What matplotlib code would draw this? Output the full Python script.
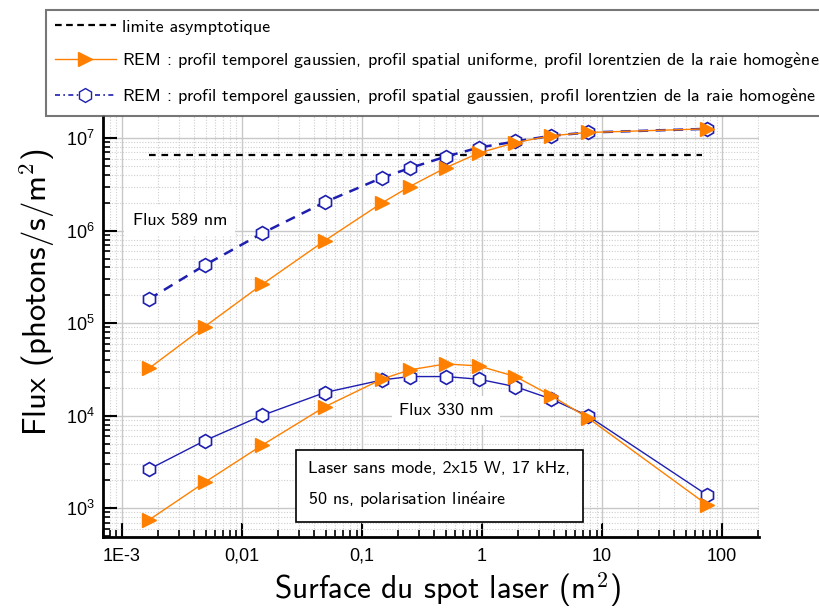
import matplotlib
matplotlib.use("Agg")
import matplotlib.pyplot as plt
from matplotlib.lines import Line2D
from matplotlib.ticker import FixedLocator, FixedFormatter, LogLocator, NullFormatter

plt.rcParams["font.family"] = ["Liberation Sans", "DejaVu Sans"]
plt.rcParams["mathtext.fontset"] = "cm"
CM = ["cmss10", "DejaVu Sans"]

# surface du spot laser (m2)
surface = [0.00168, 0.0049, 0.0148, 0.049, 0.148, 0.25, 0.5, 0.94, 1.9, 3.76, 7.6, 75]

# flux 589 nm
flux589_unif = [3.25e4, 9.2e4, 2.64e5, 7.8e5, 2.01e6, 3.0e6, 4.8e6, 6.9e6, 8.96e6, 1.06e7, 1.15e7, 1.26e7]
flux589_gauss = [1.82e5, 4.24e5, 9.4e5, 2.03e6, 3.75e6, 4.74e6, 6.32e6, 7.9e6, 9.2e6, 1.06e7, 1.15e7, 1.26e7]

# flux 330 nm
flux330_unif = [748, 1.91e3, 4.83e3, 1.25e4, 2.5e4, 3.13e4, 3.63e4, 3.45e4, 2.65e4, 1.65e4, 9.5e3, 1.09e3]
flux330_gauss = [2.64e3, 5.38e3, 1.01e4, 1.78e4, 2.44e4, 2.65e4, 2.65e4, 2.48e4, 2.06e4, 1.52e4, 9.98e3, 1.39e3]

# limite asymptotique
asym_x = [0.00168, 68]
asym_y = [6.49e6, 6.49e6]

xticks = [1e-3, 1e-2, 1e-1, 1, 10, 100]
xticklabels = ["1E-3", "0,01", "0,1", "1", "10", "100"]
yticks = [1e3, 1e4, 1e5, 1e6, 1e7]
yticklabels = [r"$\mathregular{10^{%d}}$" % k for k in range(3, 8)]

E_GRAVE = r"$\mathsf{\grave{e}}$"
E_ACUTE = r"$\mathsf{\acute{e}}$"

ORANGE = "#ff8000"
BLUE = "#1e1eb0"

fig = plt.figure(figsize=(8.2, 6.13), dpi=100)
ax = fig.add_axes([0.1256, 0.1245, 0.8, 0.6865])

ax.plot(asym_x, asym_y, color="black", ls=(0, (3, 2.6)), lw=1.6, zorder=3)
ax.plot(surface, flux589_gauss, color=BLUE, ls=(0, (4, 3)), lw=1.8, marker="h", ms=10,
        mfc="white", mec=BLUE, mew=1.2, zorder=4)
ax.plot(surface, flux589_unif, color=ORANGE, lw=1.0, marker=">", ms=10, mec=ORANGE, zorder=5)
ax.plot(surface, flux330_gauss, color=BLUE, lw=1.0, marker="h", ms=10,
        mfc="white", mec=BLUE, mew=1.2, zorder=4)
ax.plot(surface, flux330_unif, color=ORANGE, lw=1.0, marker=">", ms=10, mec=ORANGE, zorder=5)

ax.set_xscale("log")
ax.set_yscale("log")
ax.set_xlim(6.95e-4, 203)
ax.set_ylim(493, 1.74e7)

ax.xaxis.set_major_locator(FixedLocator(xticks))
ax.xaxis.set_major_formatter(FixedFormatter(xticklabels))
ax.yaxis.set_major_locator(FixedLocator(yticks))
ax.yaxis.set_major_formatter(FixedFormatter(yticklabels))
for axis in (ax.xaxis, ax.yaxis):
    axis.set_minor_locator(LogLocator(base=10, subs=range(2, 10), numticks=20))
    axis.set_minor_formatter(NullFormatter())

ax.tick_params(which="major", direction="in", length=10, width=1.5, labelsize=13)
ax.tick_params(which="minor", direction="in", length=5, width=1.2)
ax.tick_params(axis="x", pad=8)
ax.tick_params(axis="y", pad=6)

for s in ("top", "right"):
    ax.spines[s].set_visible(False)
for s in ("left", "bottom"):
    ax.spines[s].set_linewidth(2)

ax.grid(which="major", color="#c8c8c8", lw=1.0, ls="-")
ax.grid(which="minor", color="#cfcfcf", lw=0.8, ls=(0, (1, 1.5)))
ax.set_axisbelow(True)

ax.set_xlabel(r"Surface du spot laser (m$^{\mathsf{2}}$)", fontsize=22.5, family=CM, va="center")
ax.xaxis.set_label_coords(0.526, -0.128)
ax.set_ylabel(r"Flux (photons/s/m$^{\mathsf{2}}$)", fontsize=23.5, family=CM, va="center")
ax.yaxis.set_label_coords(-0.10, 0.58)

ax.text(0.117, 0.751, "Flux 589 nm", transform=ax.transAxes, fontsize=13, family=CM,
        ha="center", va="center", zorder=6,
        bbox=dict(facecolor="white", edgecolor="none", pad=6))
ax.text(0.523, 0.299, "Flux 330 nm", transform=ax.transAxes, fontsize=13, family=CM,
        ha="center", va="center", zorder=2,
        bbox=dict(facecolor="white", edgecolor="none", pad=5))
ax.text(0.3125, 0.122, "Laser sans mode, 2x15 W, 17 kHz,\n50 ns, polarisation lin" + E_ACUTE + "aire",
        transform=ax.transAxes, fontsize=13, family=CM, ha="left", va="center",
        linespacing=1.85, zorder=6,
        bbox=dict(facecolor="white", edgecolor="black", lw=1.2, pad=9))

handles = [
    Line2D([], [], color="black", ls=(0, (3, 2)), lw=1.6),
    Line2D([], [], color=ORANGE, lw=1.0, marker=">", ms=10, mec=ORANGE),
    Line2D([], [], color=BLUE, ls=(0, (3, 2, 1, 2)), lw=1.2, marker="h", ms=10,
           mfc="white", mec=BLUE),
]
labels = [
    "limite asymptotique",
    "REM : profil temporel gaussien, profil spatial uniforme, profil lorentzien de la raie homog"
    + E_GRAVE + "ne",
    "REM : profil temporel gaussien, profil spatial gaussien, profil lorentzien de la raie homog"
    + E_GRAVE + "ne",
]
leg = fig.legend(handles, labels, loc="upper left", bbox_to_anchor=(46 / 820, 1 - 10 / 613),
                 prop=dict(family=CM, size=13), numpoints=1, handlelength=3.35,
                 handletextpad=0.34, labelspacing=0.85, borderpad=0.5,
                 fancybox=False, borderaxespad=0)
leg.get_frame().set_edgecolor("#555555")
leg.get_frame().set_linewidth(1.5)

fig.savefig("out.png", dpi=100)
